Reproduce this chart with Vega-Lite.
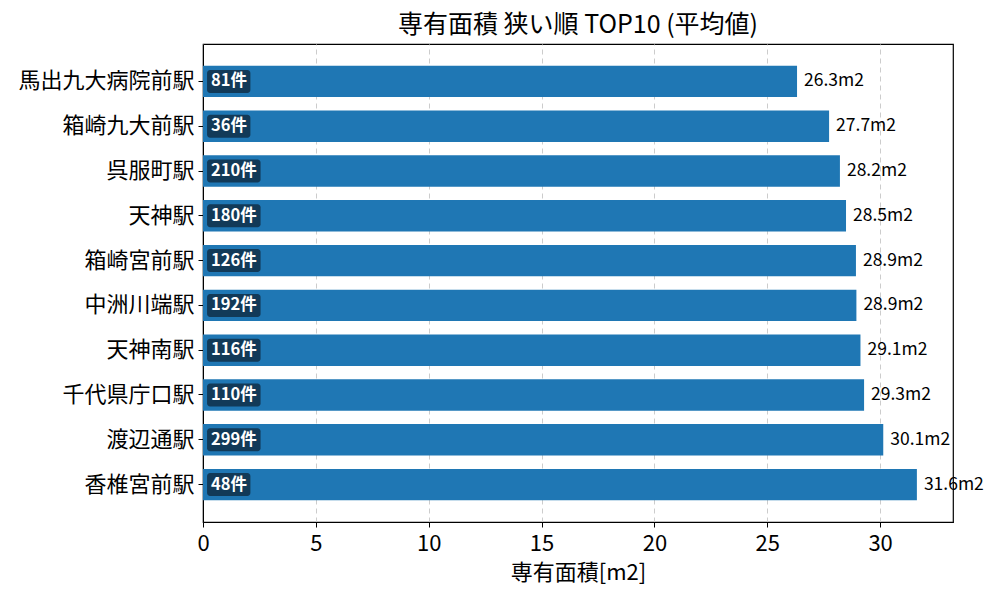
{
  "$schema": "https://vega.github.io/schema/vega-lite/v6.json",
  "width": 750,
  "height": 478,
  "autosize": "none",
  "padding": {"left": 203, "top": 44, "right": 47, "bottom": 78},
  "title": {
    "text": "専有面積 狭い順 TOP10 (平均値)",
    "font": "Noto Sans CJK JP",
    "fontSize": 25,
    "fontWeight": "normal",
    "color": "black",
    "offset": 6
  },
  "config": {
    "font": "Noto Sans CJK JP",
    "view": {"stroke": "black", "strokeWidth": 1.2}
  },
  "data": {
    "values": [
      {"station": "馬出九大病院前駅", "area": 26.32, "n": 81},
      {"station": "箱崎九大前駅", "area": 27.74, "n": 36},
      {"station": "呉服町駅", "area": 28.22, "n": 210},
      {"station": "天神駅", "area": 28.49, "n": 180},
      {"station": "箱崎宮前駅", "area": 28.93, "n": 126},
      {"station": "中洲川端駅", "area": 28.95, "n": 192},
      {"station": "天神南駅", "area": 29.13, "n": 116},
      {"station": "千代県庁口駅", "area": 29.29, "n": 110},
      {"station": "渡辺通駅", "area": 30.14, "n": 299},
      {"station": "香椎宮前駅", "area": 31.63, "n": 48}
    ]
  },
  "transform": [
    {"calculate": "format(datum.area, '.1f') + 'm2'", "as": "areaLabel"},
    {"calculate": "datum.n + '件'", "as": "countLabel"},
    {"calculate": "1.2 + 0.45 * length(toString(datum.n))", "as": "boxEnd"}
  ],
  "encoding": {
    "y": {
      "field": "station",
      "type": "nominal",
      "sort": null,
      "scale": {"paddingInner": 0.3, "paddingOuter": 0.485},
      "axis": {
        "title": null,
        "labelFontSize": 22,
        "labelColor": "black",
        "labelPadding": 4,
        "tickSize": 5,
        "tickColor": "black",
        "domainColor": "black",
        "grid": false
      }
    }
  },
  "layer": [
    {
      "mark": {"type": "bar", "color": "#1f77b4"},
      "encoding": {
        "x": {
          "field": "area",
          "type": "quantitative",
          "scale": {"domain": [0, 33.23], "nice": false, "zero": true},
          "title": "専有面積[m2]",
          "axis": {
            "values": [0, 5, 10, 15, 20, 25, 30],
            "labelFontSize": 22,
            "labelColor": "black",
            "labelFlush": false,
            "labelPadding": 6,
            "tickSize": 5,
            "tickColor": "black",
            "domainColor": "black",
            "titleFontSize": 22,
            "titleFontWeight": "normal",
            "titleColor": "black",
            "titlePadding": 8,
            "grid": true,
            "gridDash": [5, 4],
            "gridColor": "#cccccc",
            "gridWidth": 1
          }
        }
      }
    },
    {
      "mark": {"type": "text", "align": "left", "baseline": "middle", "dx": 7, "fontSize": 17.5, "color": "black"},
      "encoding": {
        "x": {"field": "area", "type": "quantitative"},
        "text": {"field": "areaLabel", "type": "nominal"}
      }
    },
    {
      "mark": {"type": "bar", "size": 23, "cornerRadius": 3, "color": "#123a58"},
      "encoding": {
        "x": {"field": "boxEnd", "type": "quantitative"},
        "x2": {"datum": 0.18}
      }
    },
    {
      "mark": {"type": "text", "align": "left", "baseline": "middle", "dx": 4, "fontSize": 16.5, "fontWeight": "bold", "color": "white"},
      "encoding": {
        "x": {"datum": 0.18, "type": "quantitative"},
        "text": {"field": "countLabel", "type": "nominal"}
      }
    }
  ]
}
